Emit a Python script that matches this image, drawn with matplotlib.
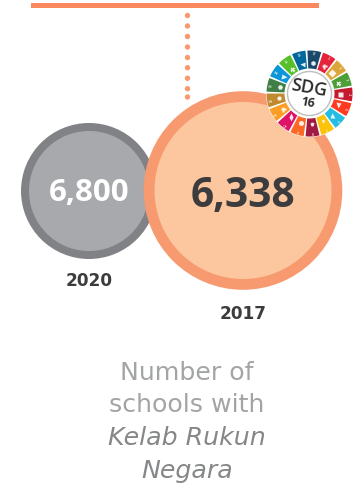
import matplotlib
matplotlib.use("Agg")
import matplotlib.pyplot as plt
from matplotlib.patches import Circle, Wedge, Rectangle
import numpy as np

years = ["2020", "2017"]
school_counts = [6800, 6338]
caption_plain = ["Number of", "schools with"]
caption_italic = ["Kelab Rukun", "Negara"]
goal_numbers = [17, 1, 2, 3, 4, 5, 6, 7, 8, 9, 10, 11, 12, 13, 14, 15, 16]
goal_colors = ["#19486a", "#e5243b", "#dda63a", "#4c9f38", "#c5192d", "#ff3a21",
               "#26bde2", "#fcc30b", "#a21942", "#fd6925", "#dd1367", "#fd9d24",
               "#bf8b2e", "#3f7e44", "#0a97d9", "#56c02b", "#00689d"]
goal_icons = ["h", "P", "D", "X", "s", "v", "^", "*", "p", "o", "d", "P",
              "8", "H", ">", "X", "<"]

ORANGE = "#f89a70"
PEACH = "#fcc69e"
GREY_RING = "#808285"
GREY_FILL = "#a7a9ac"
DARK = "#3c3c3e"

fig = plt.figure(figsize=(3.64, 4.84), dpi=100)
ax = fig.add_axes([0, 0, 1, 1])
ax.set_xlim(0, 364)
ax.set_ylim(484, 0)
ax.axis("off")

# Header rule and dotted connector
ax.add_patch(Rectangle((31, 3), 288, 5.2, fc="#f9885f", ec="none"))
for y in [15.5, 26, 36.5, 47, 57.5, 67.7, 78.3, 88.7, 97]:
    ax.add_patch(Circle((187.5, y), 2.7, fc=ORANGE, ec="none"))

# Year bubbles, 2017 on top of 2020
ax.add_patch(Circle((89, 191), 68, fc=GREY_RING, ec="none", zorder=2))
ax.add_patch(Circle((89, 191), 60, fc=GREY_FILL, ec="none", zorder=2))
ax.add_patch(Circle((243, 190.5), 99.3, fc=ORANGE, ec="none", zorder=3))
ax.add_patch(Circle((243, 190.5), 88.5, fc=PEACH, ec="none", zorder=3))

bold = dict(family="Open Sans", weight="bold", ha="center", va="center")
ax.text(89, 193, f"{school_counts[0]:,}", color="white", fontsize=22.5, zorder=6, **bold)
ax.text(243, 196, f"{school_counts[1]:,}", color=DARK, fontsize=29.3, zorder=6, **bold)

year_style = dict(family="DejaVu Sans", weight="bold", ha="center", va="center",
                  color=DARK, fontsize=12.2, zorder=6)
ax.text(89, 281, years[0], **year_style)
ax.text(243, 314, years[1], **year_style)

# SDG wheel: 17 equal segments running clockwise from just past twelve o'clock
cx, cy = 309.5, 93.5
step = 360 / len(goal_numbers)
ax.add_patch(Circle((cx, cy), 43.5, fc="white", ec="none", zorder=4))
for i, (num, col, icon) in enumerate(zip(goal_numbers, goal_colors, goal_icons)):
    # The y axis is inverted, so wedge angles grow clockwise on screen
    mid = -90 + 6.5 + i * step
    ax.add_patch(Wedge((cx, cy), 43, mid - step / 2 + 1.3, mid + step / 2 - 1.3,
                       width=18, fc=col, ec="none", zorder=5))
    rad = np.deg2rad(mid)
    ax.plot(cx + 30.5 * np.cos(rad), cy + 30.5 * np.sin(rad), marker=icon, ms=3.6,
            mfc="white", mec="none", alpha=0.9, zorder=6)
    ax.text(cx + 39 * np.cos(rad), cy + 39 * np.sin(rad), str(num), color="white",
            fontsize=2.6, ha="center", va="center", zorder=6, rotation=-(mid + 90))
ax.add_patch(Circle((cx, cy), 22, fc="white", ec="#bdbdbd", lw=1.0, zorder=6))
ax.text(cx - 0.3, cy - 5, "SDG", color="#2b2b2b", fontsize=13, rotation=-10,
        family="Open Sans", weight="semibold", ha="center", va="center", zorder=7)
ax.text(cx - 1.5, cy + 9, "16", color="#2b2b2b", fontsize=8.8, rotation=-10,
        zorder=7, **bold)

# Caption
cap = dict(family="DejaVu Sans", ha="center", va="center", fontsize=18.2)
ax.text(187, 373, caption_plain[0], color="#a2a4a6", **cap)
ax.text(187, 405, caption_plain[1], color="#a2a4a6", **cap)
ax.text(187, 438, caption_italic[0], color="#858789", style="italic", **cap)
ax.text(187, 471, caption_italic[1], color="#858789", style="italic", **cap)

fig.savefig("out.png", dpi=100)
